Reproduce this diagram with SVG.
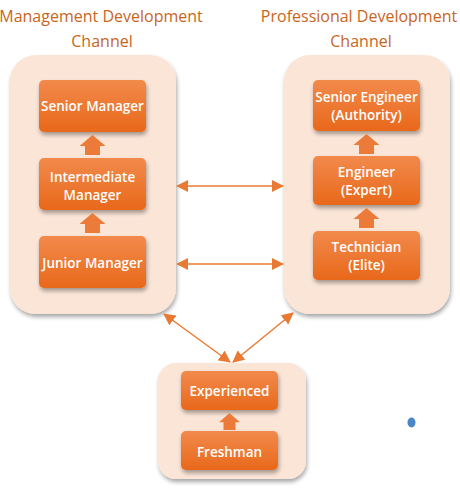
<svg xmlns="http://www.w3.org/2000/svg" width="460" height="492" viewBox="0 0 460 492">
<defs>
<linearGradient id="bx" x1="0" y1="0" x2="0" y2="1">
<stop offset="0" stop-color="#f28a4c"/>
<stop offset="1" stop-color="#e8681b"/>
</linearGradient>
<filter id="sh" x="-20%" y="-20%" width="140%" height="150%">
<feGaussianBlur in="SourceAlpha" stdDeviation="2"/>
<feOffset dx="1" dy="3" result="o"/>
<feComponentTransfer><feFuncA type="linear" slope="0.35"/></feComponentTransfer>
<feMerge><feMergeNode/><feMergeNode in="SourceGraphic"/></feMerge>
</filter>
<marker id="ah" viewBox="0 0 12 12" refX="11" refY="6" markerWidth="12" markerHeight="12" markerUnits="userSpaceOnUse" orient="auto-start-reverse">
<path d="M0,0 L12,6 L0,12 Z" fill="#e97a33"/>
</marker>
<path id="up" d="M-13,11 L0,0 L13,11 L7.5,11 L7.5,20 L-7.5,20 L-7.5,11 Z"/>
</defs>
<style>
.title{font-family:"Open Sans","Noto Sans",sans-serif;font-size:16px;fill:#c9651d;text-anchor:middle}
.cont{fill:#fbe5d7;filter:url(#sh)}
.box{fill:url(#bx);filter:url(#sh)}
.lbl{font-family:"Open Sans","Noto Sans",sans-serif;font-size:13.5px;font-weight:600;fill:#ffffff;text-anchor:middle}
.up{fill:#ec7a38}
.con{stroke:#e97a33;stroke-width:1.5;fill:none;marker-start:url(#ah);marker-end:url(#ah)}
</style>

<g id="titles">
<text class="title" x="101" y="22">Management Development</text>
<text class="title" x="102" y="47">Channel</text>
<text class="title" x="359" y="22">Professional Development</text>
<text class="title" x="361" y="47">Channel</text>
</g>

<g id="management-channel">
<rect class="cont" x="10" y="55" width="166" height="259" rx="26"/>
</g>
<g id="professional-channel">
<rect class="cont" x="284" y="55" width="166" height="259" rx="26"/>
</g>
<g id="entry-channel">
<rect class="cont" x="158" y="363" width="148" height="116" rx="18"/>
</g>

<g id="senior-manager">
<rect class="box" x="39" y="80" width="107" height="52" rx="5"/>
<text class="lbl" x="92.5" y="111">Senior Manager</text>
</g>
<g id="intermediate-manager">
<rect class="box" x="39" y="158" width="107" height="52" rx="5"/>
<text class="lbl" x="92.5" y="181.5">Intermediate</text>
<text class="lbl" x="92.5" y="199.5">Manager</text>
</g>
<g id="junior-manager">
<rect class="box" x="39" y="236" width="107" height="52" rx="5"/>
<text class="lbl" x="92.5" y="267.5">Junior Manager</text>
</g>

<g id="senior-engineer">
<rect class="box" x="313" y="80" width="107" height="51" rx="5"/>
<text class="lbl" x="366.5" y="101.5">Senior Engineer</text>
<text class="lbl" x="366.5" y="119.5">(Authority)</text>
</g>
<g id="engineer">
<rect class="box" x="313" y="156" width="107" height="49" rx="5"/>
<text class="lbl" x="366.5" y="177">Engineer</text>
<text class="lbl" x="366.5" y="195">(Expert)</text>
</g>
<g id="technician">
<rect class="box" x="313" y="231" width="107" height="49" rx="5"/>
<text class="lbl" x="366.5" y="252">Technician</text>
<text class="lbl" x="366.5" y="270">(Elite)</text>
</g>

<g id="experienced">
<rect class="box" x="181" y="371" width="97" height="39" rx="5"/>
<text class="lbl" x="229.5" y="396">Experienced</text>
</g>
<g id="freshman">
<rect class="box" x="181" y="431" width="97" height="39" rx="5"/>
<text class="lbl" x="229.5" y="456.5">Freshman</text>
</g>

<g id="promotion-arrows" class="up">
<use href="#up" x="92.5" y="135"/>
<use href="#up" x="92.5" y="213"/>
<use href="#up" x="366.5" y="134"/>
<use href="#up" x="366.5" y="208"/>
<use href="#up" x="229.5" y="413" transform="translate(229.5 413) scale(0.8 0.85) translate(-229.5 -413)"/>
</g>

<g id="connectors">
<line class="con" x1="177" y1="186" x2="283" y2="186"/>
<line class="con" x1="177" y1="264" x2="283" y2="264"/>
<line class="con" x1="164" y1="314" x2="230" y2="362"/>
<line class="con" x1="293" y1="313" x2="233" y2="362"/>
</g>

<ellipse cx="411.5" cy="422.5" rx="4" ry="5" fill="#4a86c8"/>
</svg>
